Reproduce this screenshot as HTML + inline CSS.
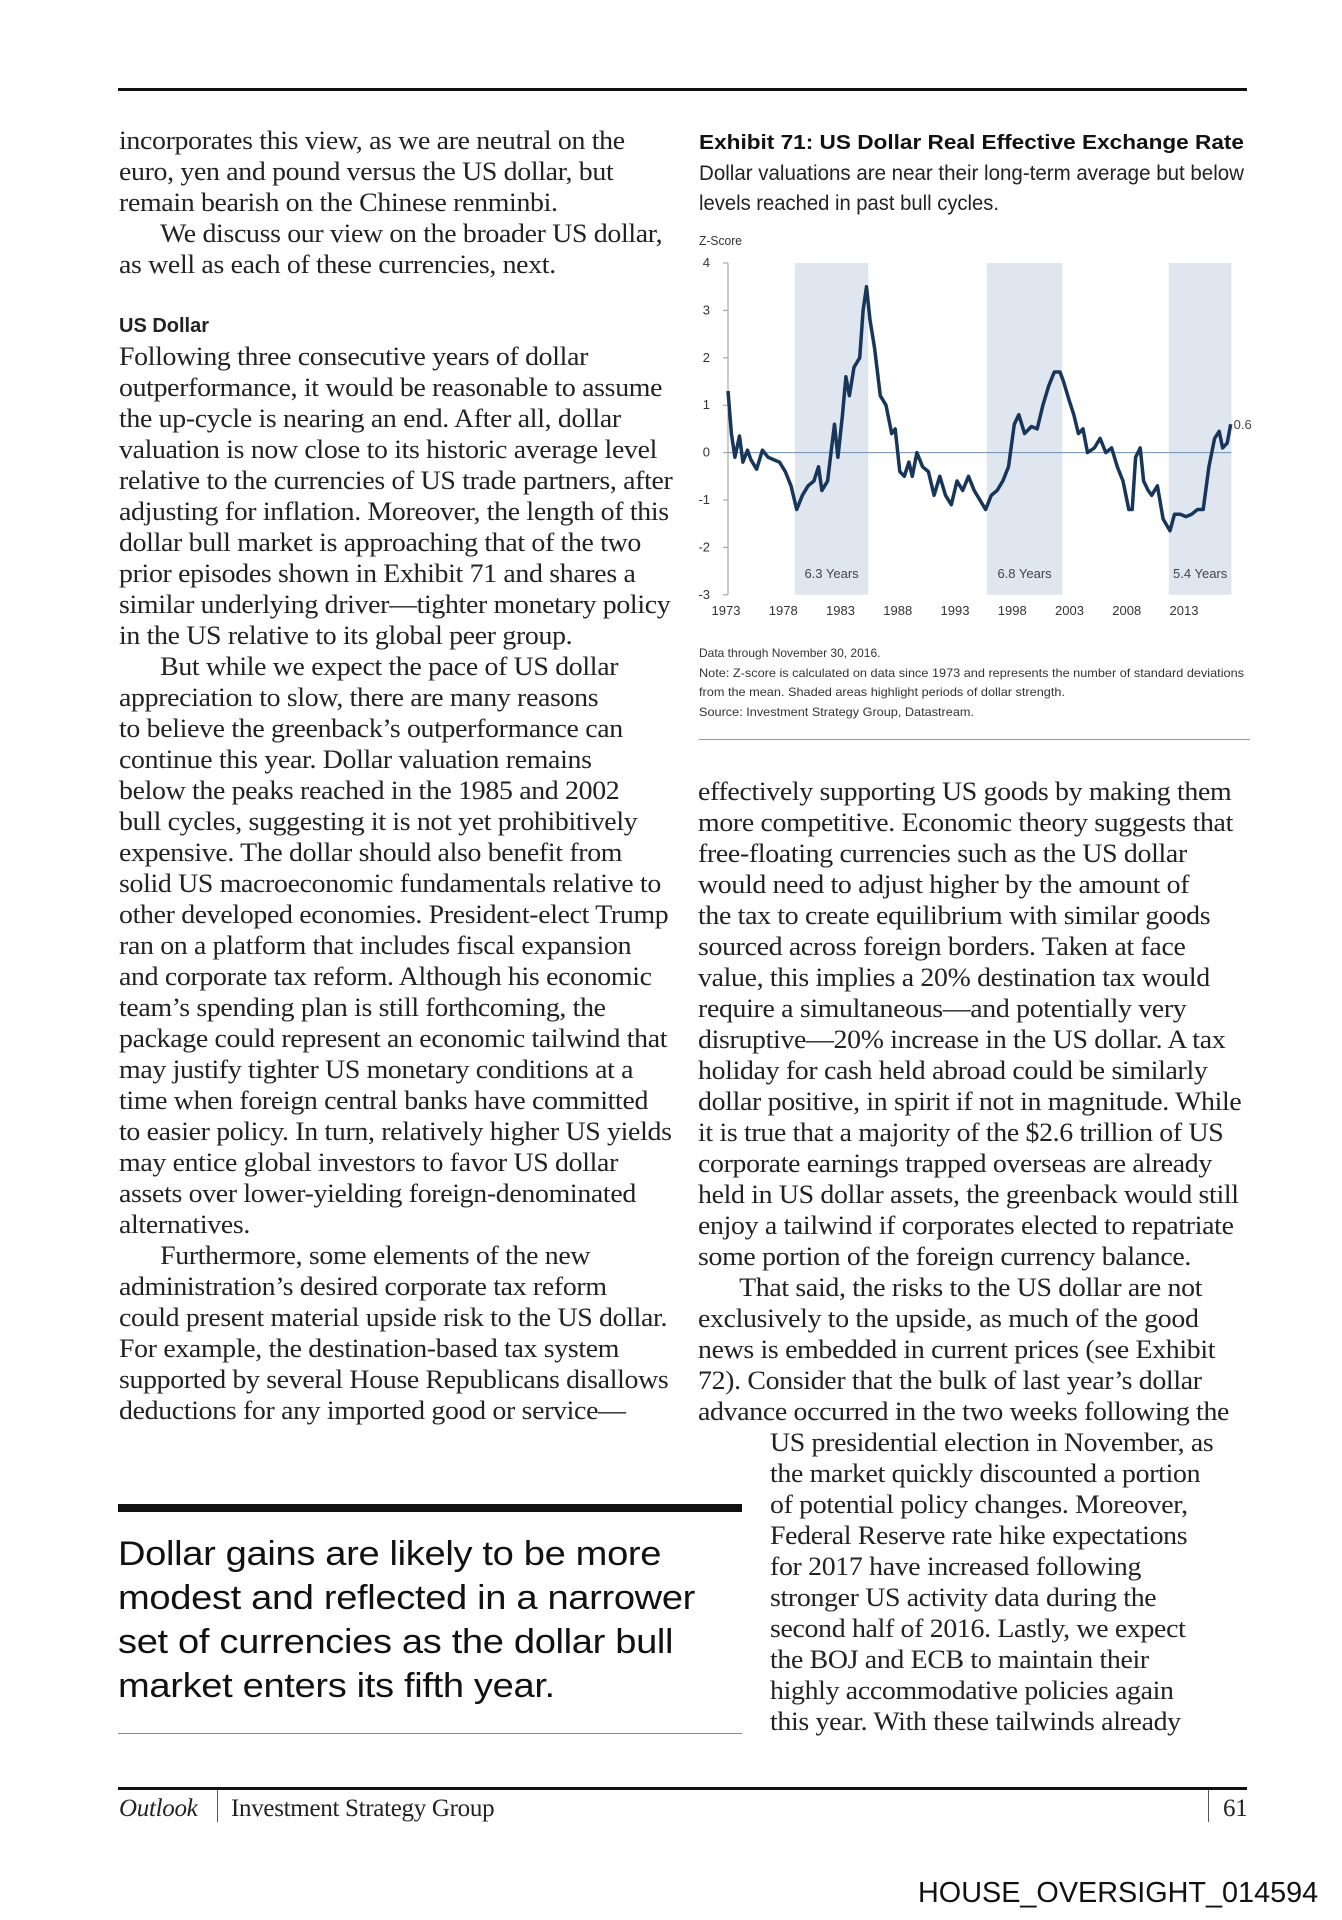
<!DOCTYPE html>
<html><head><meta charset="utf-8">
<style>
body{margin:0;background:#fff;}
#page{position:relative;width:1342px;height:1920px;overflow:hidden;background:#fff;}
.t{position:absolute;white-space:nowrap;font-family:"Liberation Serif",serif;font-size:26px;letter-spacing:-0.3px;line-height:31px;color:#222;transform-origin:0 0;transform:scaleX(1.07);}
.q{position:absolute;white-space:nowrap;font-family:"Liberation Sans",sans-serif;font-size:34px;letter-spacing:-0.3px;color:#111;line-height:44px;transform-origin:0 0;transform:scaleX(1.12);}
.rule{position:absolute;background:#111;}
</style></head>
<body>
<div id="page">
<div class="rule" style="left:118px;top:88px;width:1129px;height:3px"></div>
<div id="left"></div>
<div id="right"></div>

<div class="rule" style="left:118px;top:1504px;width:624px;height:8px"></div>
<div class="q" style="left:118px;top:1532px">Dollar gains are likely to be more</div>
<div class="q" style="left:118px;top:1576px">modest and reflected in a narrower</div>
<div class="q" style="left:118px;top:1620px">set of currencies as the dollar bull</div>
<div class="q" style="left:118px;top:1664px">market enters its fifth year.</div>
<div class="rule" style="left:118px;top:1733px;width:624px;height:1px;background:#888"></div>

<div class="rule" style="left:118px;top:1787px;width:1129px;height:3px"></div>
<div class="rule" style="left:217px;top:1790px;width:1px;height:32px;background:#555"></div>
<div class="rule" style="left:1208px;top:1790px;width:1px;height:32px;background:#555"></div>
<div class="t" style="left:119px;top:1793px;font-size:25px;transform:none;font-style:italic">Outlook</div>
<div class="t" style="left:231px;top:1793px;font-size:25px;transform:none">Investment Strategy Group</div>
<div class="t" style="left:1223px;top:1793px;font-size:25px;transform:none">61</div>
<div style="position:absolute;left:918px;top:1877px;font-family:'Liberation Sans',sans-serif;font-size:28.8px;color:#111;white-space:nowrap">HOUSE_OVERSIGHT_014594</div>

<svg id="chart" width="1342" height="760" style="position:absolute;left:0;top:0" font-family="Liberation Sans, sans-serif">
<text x="699" y="149" font-size="20" font-weight="bold" fill="#111" textLength="545" lengthAdjust="spacingAndGlyphs">Exhibit 71: US Dollar Real Effective Exchange Rate</text>
<text x="699" y="180" font-size="21" fill="#222" textLength="545" lengthAdjust="spacingAndGlyphs">Dollar valuations are near their long-term average but below</text>
<text x="699" y="210" font-size="21" fill="#222" textLength="300" lengthAdjust="spacingAndGlyphs">levels reached in past bull cycles.</text>
<text x="699" y="245" font-size="12.5" fill="#333" textLength="43" lengthAdjust="spacingAndGlyphs">Z-Score</text>
<g id="shade"></g><g id="axes"></g><g id="series"></g>
<text x="699" y="657" font-size="12" fill="#333">Data through November 30, 2016.</text>
<text x="699" y="677" font-size="12" fill="#333" textLength="545" lengthAdjust="spacingAndGlyphs">Note: Z-score is calculated on data since 1973 and represents the number of standard deviations</text>
<text x="699" y="696" font-size="12" fill="#333" textLength="366" lengthAdjust="spacingAndGlyphs">from the mean. Shaded areas highlight periods of dollar strength.</text>
<text x="699" y="716" font-size="12" fill="#333" textLength="275" lengthAdjust="spacingAndGlyphs">Source: Investment Strategy Group, Datastream.</text>
<line x1="699" y1="739.5" x2="1250" y2="739.5" stroke="#999" stroke-width="1"/>
</svg>
</div>
<script>
const years=[1973,1973.3,1973.6,1974,1974.3,1974.7,1975,1975.5,1976,1976.5,1977,1977.5,1978,1978.5,1979,1979.5,1980,1980.5,1980.9,1981.2,1981.7,1982,1982.3,1982.6,1983,1983.3,1983.6,1984,1984.5,1984.8,1985.1,1985.4,1985.8,1986.3,1986.8,1987.3,1987.6,1988,1988.4,1988.8,1989.1,1989.5,1990,1990.5,1991,1991.5,1992,1992.5,1993,1993.5,1994,1994.5,1995,1995.5,1996,1996.5,1997,1997.5,1998,1998.4,1998.9,1999.5,2000,2000.5,2001,2001.5,2002,2002.3,2002.8,2003.2,2003.6,2004,2004.4,2005,2005.5,2006,2006.5,2007,2007.5,2008,2008.3,2008.6,2009,2009.3,2009.7,2010,2010.5,2011,2011.6,2012,2012.5,2013,2013.5,2014,2014.5,2015,2015.5,2015.9,2016.2,2016.6,2016.9];
const zscores=[1.3,0.4,-0.1,0.35,-0.2,0.05,-0.15,-0.35,0.05,-0.1,-0.15,-0.2,-0.4,-0.7,-1.2,-0.9,-0.7,-0.6,-0.3,-0.8,-0.6,0.0,0.6,-0.1,0.8,1.6,1.2,1.8,2.0,3.0,3.5,2.8,2.2,1.2,1.0,0.4,0.5,-0.4,-0.5,-0.2,-0.5,0.0,-0.3,-0.4,-0.9,-0.5,-0.9,-1.1,-0.6,-0.8,-0.5,-0.8,-1.0,-1.2,-0.9,-0.8,-0.6,-0.3,0.6,0.8,0.4,0.55,0.5,1.0,1.4,1.7,1.7,1.5,1.1,0.8,0.4,0.5,0.0,0.1,0.3,0.0,0.1,-0.3,-0.6,-1.2,-1.2,-0.1,0.1,-0.6,-0.8,-0.9,-0.7,-1.4,-1.65,-1.3,-1.3,-1.35,-1.3,-1.2,-1.2,-0.3,0.3,0.45,0.1,0.2,0.6];
const shadeStarts=[1978.84,1995.6,2011.5];
const shadeEnds=[1985.25,2002.2,2016.97];
const shadeLabels=["6.3 Years","6.8 Years","5.4 Years"];
const yTicks=[4,3,2,1,0,-1,-2,-3];
const xTicks=[1973,1978,1983,1988,1993,1998,2003,2008,2013];
const lastLabel="0.6";

const NS="http://www.w3.org/2000/svg";
const X=y=>728+(y-1973)*11.45;
const Y=v=>452.6-v*47.4;
function mk(tag,attrs,parent,txt){const e=document.createElementNS(NS,tag);for(const k in attrs)e.setAttribute(k,attrs[k]);if(txt!=null)e.textContent=txt;parent.appendChild(e);return e;}
const sh=document.getElementById('shade'),ax=document.getElementById('axes'),se=document.getElementById('series');
shadeStarts.forEach((s,i)=>{
  const r=mk('rect',{x:X(s),y:Y(4),width:X(shadeEnds[i])-X(s),height:Y(-3)-Y(4),fill:'#dfe6f0'},sh);
  
  
  const t=mk('text',{x:(X(s)+X(shadeEnds[i]))/2,y:Y(-2.65),'font-size':13,fill:'#444','text-anchor':'middle'},sh,shadeLabels[i]);
  
  
});
const axl=mk('line',{x1:X(1973),y1:Y(4),x2:X(1973),y2:Y(-3),stroke:'#999','stroke-width':1},ax);


yTicks.forEach(v=>{
  mk('line',{x1:X(1973)-5,y1:Y(v),x2:X(1973),y2:Y(v),stroke:'#999'},ax);
  const t=mk('text',{x:X(1973)-18,y:Y(v)+4,'font-size':13,fill:'#333','text-anchor':'end'},ax,String(v));
  
  
});
xTicks.forEach(y=>{
  const t=mk('text',{x:X(y)-2,y:Y(-3)+20,'font-size':13,fill:'#333','text-anchor':'middle'},ax,String(y));
  
  
});
const zl=mk('line',{x1:X(1973),y1:Y(0),x2:X(2016.97),y2:Y(0),stroke:'#6f8fb0','stroke-width':1},ax);


let d='';years.forEach((y,i)=>{d+=(i?'L':'M')+X(y).toFixed(1)+','+Y(zscores[i]).toFixed(1);});
const p=mk('path',{d:d,fill:'none',stroke:'#17365a','stroke-width':3.5,'stroke-linejoin':'round'},se);


const ll=mk('text',{x:X(years[years.length-1])+3,y:Y(zscores[zscores.length-1])+5,'font-size':13,fill:'#444'},se,lastLabel);



const leftTop=["incorporates this view, as we are neutral on the","euro, yen and pound versus the US dollar, but","remain bearish on the Chinese renminbi.","\u2003\u2002We discuss our view on the broader US dollar,","as well as each of these currencies, next."];
const leftBody=["Following three consecutive years of dollar","outperformance, it would be reasonable to assume","the up-cycle is nearing an end. After all, dollar","valuation is now close to its historic average level","relative to the currencies of US trade partners, after","adjusting for inflation. Moreover, the length of this","dollar bull market is approaching that of the two","prior episodes shown in Exhibit 71 and shares a","similar underlying driver\u2014tighter monetary policy","in the US relative to its global peer group.","\u2003\u2002But while we expect the pace of US dollar","appreciation to slow, there are many reasons","to believe the greenback\u2019s outperformance can","continue this year. Dollar valuation remains","below the peaks reached in the 1985 and 2002","bull cycles, suggesting it is not yet prohibitively","expensive. The dollar should also benefit from","solid US macroeconomic fundamentals relative to","other developed economies. President-elect Trump","ran on a platform that includes fiscal expansion","and corporate tax reform. Although his economic","team\u2019s spending plan is still forthcoming, the","package could represent an economic tailwind that","may justify tighter US monetary conditions at a","time when foreign central banks have committed","to easier policy. In turn, relatively higher US yields","may entice global investors to favor US dollar","assets over lower-yielding foreign-denominated","alternatives.","\u2003\u2002Furthermore, some elements of the new","administration\u2019s desired corporate tax reform","could present material upside risk to the US dollar.","For example, the destination-based tax system","supported by several House Republicans disallows","deductions for any imported good or service\u2014"];
const right=["effectively supporting US goods by making them","more competitive. Economic theory suggests that","free-floating currencies such as the US dollar","would need to adjust higher by the amount of","the tax to create equilibrium with similar goods","sourced across foreign borders. Taken at face","value, this implies a 20% destination tax would","require a simultaneous\u2014and potentially very","disruptive\u201420% increase in the US dollar. A tax","holiday for cash held abroad could be similarly","dollar positive, in spirit if not in magnitude. While","it is true that a majority of the $2.6 trillion of US","corporate earnings trapped overseas are already","held in US dollar assets, the greenback would still","enjoy a tailwind if corporates elected to repatriate","some portion of the foreign currency balance.","\u2003\u2002That said, the risks to the US dollar are not","exclusively to the upside, as much of the good","news is embedded in current prices (see Exhibit","72). Consider that the bulk of last year\u2019s dollar","advance occurred in the two weeks following the","US presidential election in November, as","the market quickly discounted a portion","of potential policy changes. Moreover,","Federal Reserve rate hike expectations","for 2017 have increased following","stronger US activity data during the","second half of 2016. Lastly, we expect","the BOJ and ECB to maintain their","highly accommodative policies again","this year. With these tailwinds already"];
function addLine(parent,txt,x,base,name,extra){const e=document.createElement('div');e.className='t';e.style.left=x+'px';e.style.top=(base-25)+'px';if(extra)e.style.cssText+=extra;e.textContent=txt;


parent.appendChild(e);}
const L=document.getElementById('left'),R=document.getElementById('right');
leftTop.forEach((s,i)=>addLine(L,s,119,150+i*31,'body-line'));
addLine(L,'US Dollar',119,336,'section-heading','font-family:"Liberation Sans",sans-serif;font-weight:bold;font-size:20px;letter-spacing:0;transform:none');
leftBody.forEach((s,i)=>addLine(L,s,119,366+i*31,'body-line'));
right.forEach((s,i)=>addLine(R,s,i>=21?770:698,801+i*31,'body-line'));
</script>
</body></html>
